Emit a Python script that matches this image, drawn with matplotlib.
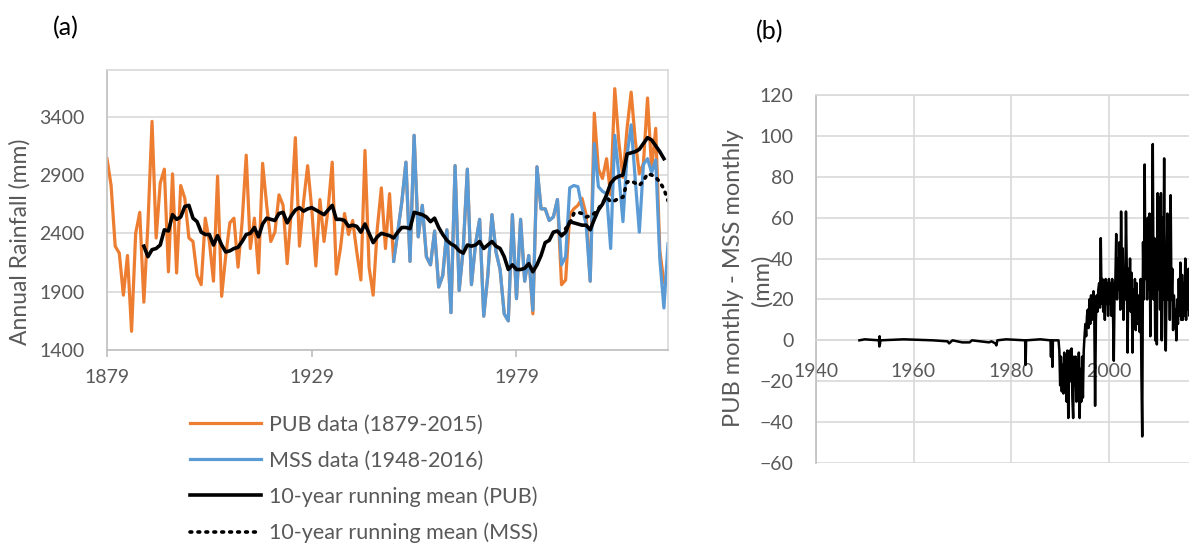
import numpy as np
import matplotlib
matplotlib.use('Agg')
import matplotlib.pyplot as plt

plt.rcParams['font.family'] = ['Lato', 'DejaVu Sans']

GREY_TXT = '#595959'
GRID = '#d9d9d9'

# ---- panel (a): annual rainfall ----
pub_start = 1879
pub_rain = [3040, 2810, 2290, 2230, 1870, 2210, 1560, 2400, 2580, 1810,
            2480, 3360, 2360, 2830, 2950, 2070, 2910, 2060, 2810, 2700,
            2360, 2330, 2040, 1960, 2530, 2330, 1990, 2890, 1860, 2210,
            2490, 2530, 2110, 2500, 3070, 2270, 2530, 2060, 3000, 2640,
            2330, 2410, 2730, 2640, 2140, 2590, 3220, 2290, 2670, 2980,
            2610, 2120, 2690, 2330, 2610, 3010, 2050, 2270, 2570, 2390,
            2510, 2240, 2000, 3110, 2110, 1870, 2440, 2790, 2270, 2740,
            2160, 2410, 2670, 3010, 2160, 3240, 2370, 2640, 2200, 2130,
            2420, 1940, 2040, 2430, 1720, 2980, 1910, 2270, 2950, 1960,
            2310, 2520, 1690, 2040, 2560, 2240, 2090, 1710, 1650, 2560,
            1840, 2520, 1990, 2210, 1710, 2970, 2610, 2610, 2510, 2540,
            2690, 1960, 2000, 2560, 2610, 2640, 2700, 2560, 1990, 3430,
            2950, 2870, 3040, 2730, 3640, 3180, 2880, 3300, 3610, 3200,
            2910, 3000, 3560, 2950, 3300, 2250, 1980]

mss_start = 1949
mss_rain = [2160, 2410, 2670, 3010, 2160, 3240, 2370, 2640, 2200, 2130,
            2420, 1940, 2040, 2430, 1720, 2980, 1910, 2270, 2950, 1960,
            2310, 2520, 1690, 2040, 2560, 2240, 2090, 1710, 1650, 2560,
            1840, 2520, 1990, 2210, 1740, 2970, 2610, 2610, 2510, 2540,
            2690, 2130, 2200, 2790, 2810, 2800, 2620, 2480, 1990, 3170,
            2800, 2760, 2740, 2270, 3240, 2900, 2500, 3070, 3330, 2860,
            2410, 2990, 3040, 2920, 3030, 2180, 1760, 2310]

pub_mean_start = 1888
pub_mean = [2290, 2200, 2260, 2270, 2300, 2430, 2420, 2560, 2520, 2540,
            2630, 2640, 2530, 2500, 2410, 2390, 2390, 2300, 2380, 2300,
            2240, 2250, 2270, 2280, 2330, 2390, 2400, 2450, 2370, 2480,
            2530, 2520, 2510, 2570, 2580, 2490, 2550, 2600, 2620, 2590,
            2610, 2620, 2600, 2580, 2560, 2600, 2640, 2520, 2520, 2510,
            2460, 2470, 2460, 2410, 2480, 2400, 2320, 2370, 2400, 2390,
            2380, 2360, 2410, 2450, 2450, 2440, 2580, 2570, 2560, 2540,
            2500, 2530, 2450, 2390, 2340, 2310, 2290, 2250, 2230, 2300,
            2290, 2300, 2330, 2270, 2300, 2330, 2290, 2270, 2200, 2090,
            2130, 2090, 2090, 2100, 2140, 2070, 2130, 2210, 2320, 2340,
            2410, 2420, 2380, 2410, 2500, 2490, 2480, 2470, 2470, 2430,
            2520, 2600, 2650, 2730, 2830, 2870, 2890, 2900, 3080, 3090,
            3100, 3120, 3170, 3220, 3200, 3150, 3100, 3040]

mss_mean_start = 1990
mss_mean = [2380, 2440, 2480, 2570, 2580, 2570, 2540, 2550, 2570, 2610,
            2660, 2710, 2670, 2680, 2700, 2710, 2840, 2850, 2830, 2810,
            2850, 2910, 2900, 2880, 2840, 2780, 2680]

legend_labels = ['PUB data (1879-2015)', 'MSS data (1948-2016)',
                 '10-year running mean (PUB)', '10-year running mean (MSS)']

# ---- panel (b): monthly difference PUB - MSS ----
b_flat_year = [1948.9, 1950.0, 1952.9, 1953.0, 1953.05, 1953.1, 1953.2,
               1958.0, 1964.0, 1967.0, 1967.3, 1968.0, 1970.0, 1971.5,
               1972.0, 1975.5, 1976.0, 1976.8, 1977.0, 1977.2, 1979.0,
               1982.9, 1983.0, 1983.1, 1986.0, 1988.1, 1988.2, 1988.3,
               1988.5, 1988.6, 1988.7, 1989.6]
b_flat_diff = [0, 0.5, 0, -3, 2, -2, 0,
               0.5, 0, -0.5, -1.5, 0, -1, -1,
               0, -1, -0.5, -1.5, -2.5, 0, 0.5,
               0, -12, 0, 0.5, 0, -8, 0,
               -13, 0, 0, 0]

b_dense_start = 1989.75   # two-monthly samples from here on
b_dense_diff = [0, -5,
                -22, -8, -25, -12, -26, -6,
                -20, -8, -30, -5, -38, -10,
                -5, -20, -4, -28, -38, -8,
                -22, -8, -30, -10, -20, -6,
                -38, -14, -30, -8, -28, -5,
                2, 8, 2, 12, 15, 6,
                20, 8, 22, 10, 18, 24,
                12, -32, 10, 22, 14, 25,
                28, 16, 50, 18, 30, 14,
                26, 10, 30, 18, 28, 12,
                30, 18, 28, 12, 30, 14,
                -10, 25, 30, 52, 20, 40,
                25, 48, 15, 63, 30, 45,
                10, 35, 20, 63, 35, -6,
                35, 18, 40, 14, 33, -6,
                25, 10, 30, 5, 28, 8,
                22, 16, 4, 30, -15, -47,
                48, 20, 86, 30, 55, 20,
                60, 25, 62, 2, 50, 40,
                96, 20, 50, 0, 40, -2,
                72, 25, 70, 15, 72, 0,
                60, 20, 89, 2, -5, 30,
                62, 20, 50, 10, 71, 20,
                35, 5, 22, 8, 15, 0,
                20, 8, 30, 12, 38, 10,
                32, 10, 28, 12, 40, 10,
                30, 15, 35, 12, 25, 20]

pub_years = np.arange(pub_start, pub_start + len(pub_rain))
mss_years = np.arange(mss_start, mss_start + len(mss_rain))
pub_mean_years = np.arange(pub_mean_start, pub_mean_start + len(pub_mean))
mss_mean_years = np.arange(mss_mean_start, mss_mean_start + len(mss_mean))
b_years = b_flat_year + list(b_dense_start + np.arange(len(b_dense_diff)) / 6.0)
b_diff = b_flat_diff + b_dense_diff

W, H = 1189, 545
fig = plt.figure(figsize=(W / 100, H / 100), dpi=100)

# panel (a)
ax1 = fig.add_axes([107 / W, 1 - 350 / H, (668 - 107) / W, (350 - 70) / H])
l1, = ax1.plot(pub_years, pub_rain, color='#ED7D31', lw=2.3)
l2, = ax1.plot(mss_years, mss_rain, color='#5B9BD5', lw=2.3)
l3, = ax1.plot(pub_mean_years, pub_mean, color='black', lw=2.6)
l4, = ax1.plot(mss_mean_years, mss_mean, color='black', lw=2.6,
               linestyle=(0, (0.5, 1.7)), dash_capstyle='round')
ax1.set_xlim(1879, 2016)
ax1.set_ylim(1400, 3800)
ax1.set_yticks([1400, 1900, 2400, 2900, 3400])
ax1.set_xticks([1879, 1929, 1979])
ax1.grid(axis='y', color=GRID, lw=1.2)
ax1.set_axisbelow(True)
for s in ['top', 'right']:
    ax1.spines[s].set_color(GRID)
for s in ['left', 'bottom']:
    ax1.spines[s].set_color('#bfbfbf')
for s in ax1.spines.values():
    s.set_linewidth(1.2)
ax1.tick_params(axis='y', length=0, pad=16, labelsize=14, labelcolor=GREY_TXT)
ax1.tick_params(axis='x', length=5, width=1.2, color='#bfbfbf', pad=9,
                labelsize=14, labelcolor=GREY_TXT)
fig.text(20 / W, 1 - 242 / H, 'Annual Rainfall (mm)', rotation=90,
         ha='center', va='center', fontsize=16.5, color=GREY_TXT)
fig.text(66 / W, 1 - 28 / H, '(a)', ha='center', va='center', fontsize=18)

fig.legend([l1, l2, l3, l4], legend_labels, loc='upper left',
           bbox_to_anchor=(190 / W, 1 - 415 / H), frameon=False,
           fontsize=15.5, labelcolor=GREY_TXT, handlelength=3.3,
           handletextpad=0.35, labelspacing=0.73, borderpad=0, borderaxespad=0)

# panel (b)
ax2 = fig.add_axes([816 / W, 1 - 463 / H, (1206 - 816) / W, (463 - 95) / H])
ax2.plot(b_years, b_diff, color='black', lw=1.8, zorder=3)
ax2.set_xlim(1940, 2020)
ax2.set_ylim(-60, 120)
ax2.set_xticks([1940, 1960, 1980, 2000])
ax2.set_yticks(np.arange(-60, 121, 20))
ax2.grid(color=GRID, lw=1.2)
ax2.axvline(2020, color=GRID, lw=1.2)
ax2.set_axisbelow(True)
ax2.spines['bottom'].set_position(('data', 0))
for s in ax2.spines.values():
    s.set_color(GRID)
    s.set_linewidth(1.2)
ax2.spines['left'].set_color('#bfbfbf')
ax2.tick_params(axis='y', length=0, pad=16, labelsize=14, labelcolor=GREY_TXT)
ax2.tick_params(axis='x', length=0, pad=16, labelsize=14, labelcolor=GREY_TXT)
fig.text(734 / W, 1 - 278 / H, 'PUB monthly - MSS monthly', rotation=90,
         ha='center', va='center', fontsize=17, color=GREY_TXT)
fig.text(762 / W, 1 - 280 / H, '(mm)', rotation=90,
         ha='center', va='center', fontsize=17, color=GREY_TXT)
fig.text(770 / W, 1 - 32 / H, '(b)', ha='center', va='center', fontsize=18)

fig.savefig('out.png', dpi=100)
